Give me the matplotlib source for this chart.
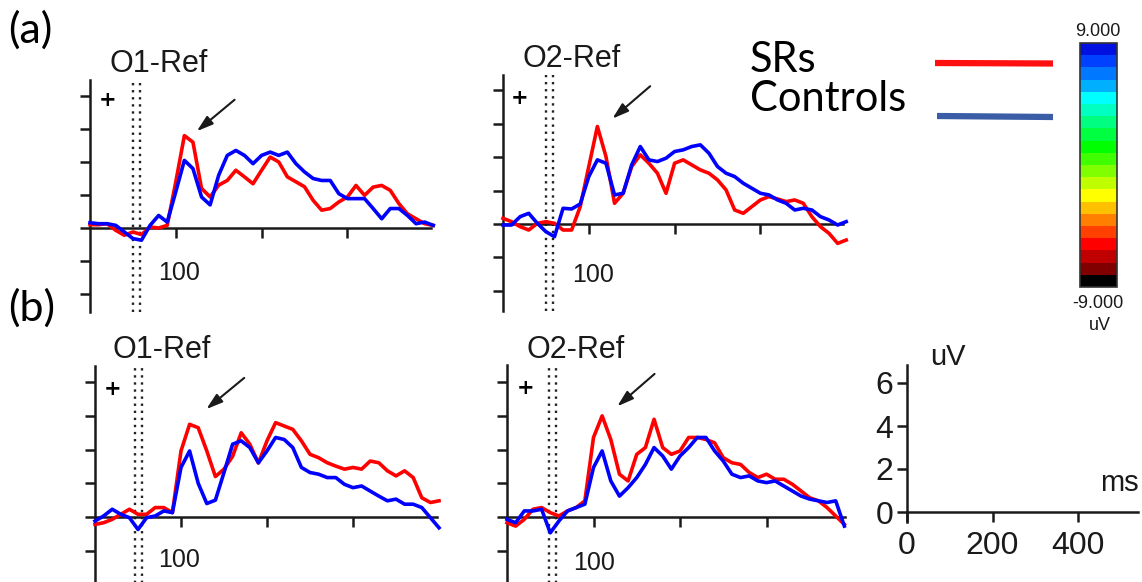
import numpy as np
import matplotlib
matplotlib.use('Agg')
import matplotlib.pyplot as plt
from matplotlib.colors import ListedColormap, Normalize
from matplotlib.cm import ScalarMappable

W, H = 1142, 582

# grand-average ERP traces, sampled every 10 ms (panel y units = one tick)
time = np.arange(0, 401, 10)
time_short = np.arange(0, 391, 10)

a_o1_red = [0.1, 0.1, 0.13, -0.07, -0.22, -0.12, -0.2, 0.03, 0.0, 0.08,
            1.4, 2.8, 2.6, 1.2, 0.94, 1.3, 1.44, 1.75, 1.55, 1.34,
            1.75, 2.15, 2.0, 1.55, 1.4, 1.25, 0.84, 0.54, 0.59, 0.79,
            0.94, 1.29, 0.99, 1.24, 1.29, 1.14, 0.74, 0.43, 0.28, 0.13, 0.08]
a_o1_blue = [0.16, 0.13, 0.13, 0.08, -0.12, -0.32, -0.37, 0.08, 0.38, 0.18,
             1.1, 2.05, 1.8, 0.94, 0.7, 1.6, 2.2, 2.35, 2.2, 1.95,
             2.2, 2.3, 2.2, 2.3, 1.95, 1.7, 1.5, 1.44, 1.44, 1.04,
             0.89, 0.89, 0.89, 0.59, 0.28, 0.59, 0.59, 0.38, 0.13, 0.18, 0.08]
a_o2_red = [0.17, 0.07, -0.08, -0.18, 0.02, 0.07, 0.02, -0.18, -0.18, 0.52,
            1.72, 2.92, 2.02, 0.62, 0.92, 1.72, 2.07, 1.82, 1.52, 0.92,
            1.82, 1.92, 1.77, 1.62, 1.52, 1.32, 1.02, 0.42, 0.32, 0.52,
            0.72, 0.82, 0.75, 0.67, 0.72, 0.62, 0.22, -0.08, -0.28, -0.58, -0.48]
a_o2_blue = [-0.03, -0.03, 0.22, 0.32, 0.02, -0.23, -0.38, 0.47, 0.45, 0.6,
             1.42, 1.92, 1.82, 0.87, 0.92, 1.77, 2.32, 1.92, 1.87, 1.97,
             2.17, 2.22, 2.32, 2.37, 2.12, 1.72, 1.52, 1.42, 1.22, 1.07,
             0.92, 0.87, 0.72, 0.62, 0.42, 0.47, 0.42, 0.22, 0.12, -0.03, 0.07]
b_o1_red = [-0.22, -0.17, -0.07, 0.08, 0.23, 0.08, 0.08, 0.28, 0.28, 0.13,
            1.96, 2.75, 2.65, 1.96, 1.2, 1.42, 1.8, 2.5, 2.16, 1.6,
            2.26, 2.8, 2.7, 2.6, 2.26, 1.86, 1.76, 1.61, 1.51, 1.42,
            1.47, 1.42, 1.66, 1.61, 1.37, 1.22, 1.37, 1.17, 0.57, 0.43, 0.48]
b_o1_blue = [-0.12, 0.03, 0.23, 0.08, -0.02, -0.37, -0.02, 0.03, 0.18, 0.13,
             1.47, 1.96, 1.0, 0.4, 0.5, 1.32, 2.16, 2.26, 2.06, 1.61,
             1.96, 2.36, 2.3, 2.06, 1.47, 1.32, 1.27, 1.17, 1.17, 0.97,
             0.87, 0.92, 0.77, 0.62, 0.48, 0.53, 0.38, 0.38, 0.28, -0.02, -0.32]
b_o2_red = [-0.17, -0.27, -0.07, 0.23, 0.28, 0.13, 0.03, 0.18, 0.28, 0.48,
            2.36, 3.0, 2.3, 1.27, 1.07, 1.86, 2.06, 2.9, 2.06, 1.86,
            1.96, 2.36, 2.36, 2.3, 2.2, 1.76, 1.61, 1.56, 1.32, 1.17,
            1.27, 1.12, 1.12, 0.97, 0.77, 0.57, 0.48, 0.28, 0.03, -0.22]
b_o2_blue = [-0.07, -0.17, 0.18, 0.18, 0.23, -0.47, -0.12, 0.18, 0.28, 0.38,
             1.47, 1.96, 1.07, 0.62, 0.87, 1.17, 1.56, 2.06, 1.81, 1.42,
             1.81, 2.06, 2.36, 2.36, 1.96, 1.66, 1.27, 1.17, 1.22, 1.07,
             1.02, 1.07, 0.92, 0.77, 0.62, 0.53, 0.48, 0.43, 0.48, -0.27]

# colour scale of the topography maps, top (+9 uV) to bottom (-9 uV)
scale_colors = ['#0010E0', '#0040FF', '#0078FF', '#00B0FF', '#00FFFF',
                '#00FFC0', '#00FF80', '#00FF40', '#00FF00', '#40FF00',
                '#80FF00', '#C0FF00', '#FFFF00', '#FFC000', '#FF8000',
                '#FF4000', '#FF0000', '#C00000', '#800000', '#000000']

RED = '#FF0000'
BLUE = '#0000FF'
PIX = 'Liberation Sans'
INK = '#1a1a1a'

fig = plt.figure(figsize=(W / 100, H / 100), dpi=100)


def fig_xy(x, y):
    return x / W, 1 - y / H


def panel(ox, oy, sx, sy, xend, ytop, ybot):
    xmin, xmax = -80, 450
    ymin, ymax = -3.2, 5.5
    left, right = ox + sx * xmin, ox + sx * xmax
    top, bottom = oy - sy * ymax, oy - sy * ymin
    ax = fig.add_axes([left / W, 1 - bottom / H, (right - left) / W, (bottom - top) / H])
    ax.set_xlim(xmin, xmax)
    ax.set_ylim(ymin, ymax)
    ax.patch.set_alpha(0)
    for s in ['top', 'right']:
        ax.spines[s].set_visible(False)
    ax.spines['left'].set_position(('data', 0))
    ax.spines['bottom'].set_position(('data', 0))
    ax.spines['left'].set_bounds(ybot, ytop)
    ax.spines['bottom'].set_bounds(0, xend)
    for s in ['left', 'bottom']:
        ax.spines[s].set_linewidth(1.8)
        ax.spines[s].set_color(INK)
    ax.set_yticks([t for t in [-3, -2, -1, 0, 1, 2, 3, 4] if t >= ybot])
    ax.set_xticks([100, 200, 300])
    ax.tick_params(direction='out', length=7, width=1.8, color=INK,
                   labelleft=False, labelbottom=False)
    return ax


def draw_erp(ax, t, red, blue, stim, ytop, ybot, tip, tail):
    for dx in (-4, 4):
        ax.plot([stim + dx, stim + dx], [ybot, ytop], color='#222222',
                lw=1.7, ls=(0, (1, 2)))
    ax.plot(t, red, color=RED, lw=2.6, zorder=3, clip_on=False)
    ax.plot(t, blue, color=BLUE, lw=2.6, zorder=4, clip_on=False)
    ax.annotate('', xy=tip, xytext=tail,
                arrowprops=dict(arrowstyle='-|>,head_length=0.7,head_width=0.22',
                                color=INK, lw=1.5, mutation_scale=14))


ax1 = panel(90, 228, 0.858, 33.0, 397, 4.48, -2.55)
draw_erp(ax1, time, a_o1_red, a_o1_blue, 54, 4.48, -2.55, (122, 2.88), (171, 3.94))
ax2 = panel(503, 224, 0.858, 33.4, 396, 4.46, -2.6)
draw_erp(ax2, time, a_o2_red, a_o2_blue, 54, 4.46, -2.6, (125, 3.1), (174, 4.18))
ax3 = panel(95, 517, 0.86, 33.7, 398, 4.48, -2.2)
draw_erp(ax3, time, b_o1_red, b_o1_blue, 51, 4.48, -2.2, (127, 3.15), (176, 4.18))
ax4 = panel(507, 517, 0.865, 33.7, 391, 4.5, -2.2)
draw_erp(ax4, time_short, b_o2_red, b_o2_blue, 53, 4.5, -2.2, (125, 3.23), (173, 4.3))

# electrode titles, latency labels and polarity marks
for x, y, s in [(110, 72, 'O1-Ref'), (523, 67, 'O2-Ref'),
                (113, 358, 'O1-Ref'), (527, 358, 'O2-Ref')]:
    fig.text(*fig_xy(x, y), s, family=PIX, fontsize=22, color=INK,
             ha='left', va='baseline')
for x, y in [(158, 280), (572, 282), (158, 567), (573, 570)]:
    fig.text(*fig_xy(x, y), '100', family=PIX, fontsize=18, color=INK,
             ha='left', va='baseline')
for x, y in [(108, 100), (520, 98), (113, 389), (526, 388)]:
    fig.text(*fig_xy(x, y), '+', family='DejaVu Sans', fontsize=15,
             fontweight='bold', ha='center', va='center')

fig.text(*fig_xy(8, 43), '(a)', family='Lato', fontsize=31, ha='left', va='baseline')
fig.text(*fig_xy(8, 321), '(b)', family='Lato', fontsize=31, ha='left', va='baseline')

# group legend
fig.text(*fig_xy(750, 72), 'SRs', family='Lato', fontsize=30, ha='left', va='baseline')
fig.text(*fig_xy(750, 111), 'Controls', family='Lato', fontsize=30, ha='left', va='baseline')
leg = fig.add_axes([0, 0, 1, 1])
leg.set_xlim(0, W)
leg.set_ylim(H, 0)
leg.axis('off')
leg.plot([935, 1053], [63, 63.5], color='#FF1010', lw=4.5, solid_capstyle='butt')
leg.plot([937, 1053], [116, 117], color='#3A5DA6', lw=4.5, solid_capstyle='butt')

# colour bar
cax = fig.add_axes([1080 / W, 1 - 287 / H, 37 / W, 244 / H])
cmap = ListedColormap(scale_colors[::-1])
cb = fig.colorbar(ScalarMappable(norm=Normalize(-9, 9), cmap=cmap), cax=cax)
cb.set_ticks([])
cb.outline.set_linewidth(1.2)
cb.outline.set_edgecolor('#333333')
fig.text(*fig_xy(1098, 32), '9.000', family=PIX, fontsize=13, ha='center', va='center', color=INK)
fig.text(*fig_xy(1098, 303), '-9.000', family=PIX, fontsize=13, ha='center', va='center', color=INK)
fig.text(*fig_xy(1100, 325), 'uV', family=PIX, fontsize=13, ha='center', va='center', color=INK)

# amplitude / latency scale
sx, sy = 0.4275, 21.5
ox, oy = 907, 512
xmin, xmax, ymin, ymax = -120, 560, -2.0, 8.0
sax = fig.add_axes([(ox + sx * xmin) / W, 1 - (oy - sy * ymin) / H,
                    sx * (xmax - xmin) / W, sy * (ymax - ymin) / H])
sax.set_xlim(xmin, xmax)
sax.set_ylim(ymin, ymax)
sax.patch.set_alpha(0)
for s in ['top', 'right']:
    sax.spines[s].set_visible(False)
sax.spines['left'].set_position(('data', 0))
sax.spines['bottom'].set_position(('data', 0))
sax.spines['left'].set_bounds(-0.47, 6.84)
sax.spines['bottom'].set_bounds(0, 540)
for s in ['left', 'bottom']:
    sax.spines[s].set_linewidth(1.8)
    sax.spines[s].set_color(INK)
sax.set_xticks([0, 200, 400])
sax.set_yticks([0, 2, 4, 6])
sax.tick_params(direction='out', length=7, width=1.8, color=INK, labelsize=23, pad=3)
sax.tick_params(axis='x', pad=7)
for lab in sax.get_xticklabels() + sax.get_yticklabels():
    lab.set_family(PIX)
    lab.set_color(INK)
fig.text(*fig_xy(948, 357), 'uV', family=PIX, fontsize=21, ha='center', va='center', color=INK)
fig.text(*fig_xy(1119, 483), 'ms', family=PIX, fontsize=21, ha='center', va='center', color=INK)

fig.savefig('out.png', dpi=100)
